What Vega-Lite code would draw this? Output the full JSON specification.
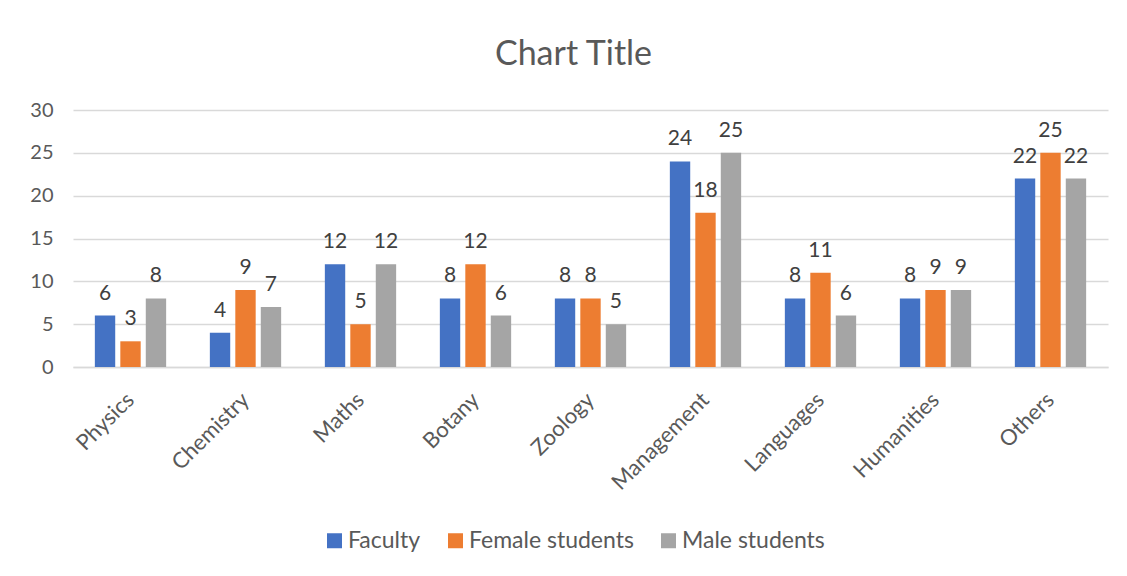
{
  "$schema": "https://vega.github.io/schema/vega-lite/v6.json",
  "autosize": "none",
  "width": 1035,
  "height": 257,
  "padding": {"left": 73, "top": 110, "right": 19, "bottom": 209},
  "background": "white",
  "config": {
    "font": "Lato",
    "view": {"stroke": null}
  },
  "title": {
    "text": "Chart Title",
    "fontSize": 34,
    "font": "Lato",
    "fontWeight": "normal",
    "color": "#595959",
    "anchor": "middle",
    "offset": 28,
    "dx": -17
  },
  "data": {
    "values": [
      {"subject": "Physics", "group": "Faculty", "value": 6},
      {"subject": "Physics", "group": "Female students", "value": 3},
      {"subject": "Physics", "group": "Male students", "value": 8},
      {"subject": "Chemistry", "group": "Faculty", "value": 4},
      {"subject": "Chemistry", "group": "Female students", "value": 9},
      {"subject": "Chemistry", "group": "Male students", "value": 7},
      {"subject": "Maths", "group": "Faculty", "value": 12},
      {"subject": "Maths", "group": "Female students", "value": 5},
      {"subject": "Maths", "group": "Male students", "value": 12},
      {"subject": "Botany", "group": "Faculty", "value": 8},
      {"subject": "Botany", "group": "Female students", "value": 12},
      {"subject": "Botany", "group": "Male students", "value": 6},
      {"subject": "Zoology", "group": "Faculty", "value": 8},
      {"subject": "Zoology", "group": "Female students", "value": 8},
      {"subject": "Zoology", "group": "Male students", "value": 5},
      {"subject": "Management", "group": "Faculty", "value": 24},
      {"subject": "Management", "group": "Female students", "value": 18},
      {"subject": "Management", "group": "Male students", "value": 25},
      {"subject": "Languages", "group": "Faculty", "value": 8},
      {"subject": "Languages", "group": "Female students", "value": 11},
      {"subject": "Languages", "group": "Male students", "value": 6},
      {"subject": "Humanities", "group": "Faculty", "value": 8},
      {"subject": "Humanities", "group": "Female students", "value": 9},
      {"subject": "Humanities", "group": "Male students", "value": 9},
      {"subject": "Others", "group": "Faculty", "value": 22},
      {"subject": "Others", "group": "Female students", "value": 25},
      {"subject": "Others", "group": "Male students", "value": 22}
    ]
  },
  "encoding": {
    "x": {
      "field": "subject",
      "type": "nominal",
      "sort": null,
      "scale": {"paddingInner": 0.38, "paddingOuter": 0.19},
      "axis": {
        "title": null,
        "labelAngle": -45,
        "labelAlign": "right",
        "labelBaseline": "middle",
        "labelFontSize": 22,
        "labelColor": "#595959",
        "labelPadding": 29,
        "ticks": false,
        "domain": true,
        "domainColor": "#d9d9d9",
        "domainWidth": 1.5,
        "grid": false
      }
    },
    "xOffset": {
      "field": "group",
      "type": "nominal",
      "sort": ["Faculty", "Female students", "Male students"],
      "scale": {"paddingInner": 0.2, "paddingOuter": 0}
    },
    "y": {
      "field": "value",
      "type": "quantitative",
      "scale": {"domain": [0, 30], "nice": false},
      "axis": {
        "title": null,
        "values": [0, 5, 10, 15, 20, 25, 30],
        "labelFontSize": 20,
        "labelColor": "#595959",
        "labelPadding": 20,
        "ticks": false,
        "domain": false,
        "grid": true,
        "gridColor": "#d9d9d9",
        "gridWidth": 1.5
      }
    }
  },
  "layer": [
    {
      "mark": {"type": "bar"},
      "encoding": {
        "color": {
          "field": "group",
          "type": "nominal",
          "sort": ["Faculty", "Female students", "Male students"],
          "scale": {
            "domain": ["Faculty", "Female students", "Male students"],
            "range": ["#4472C4", "#ED7D31", "#A5A5A5"]
          },
          "legend": {
            "title": null,
            "orient": "none",
            "direction": "horizontal",
            "legendX": 250,
            "legendY": 419,
            "symbolType": "square",
            "symbolSize": 225,
            "symbolStrokeWidth": 0,
            "labelFontSize": 23,
            "labelLimit": 400,
            "labelColor": "#595959",
            "labelOffset": 2,
            "columnPadding": 23
          }
        }
      }
    },
    {
      "mark": {"type": "text", "baseline": "alphabetic", "dy": -16, "fontSize": 21, "color": "#404040"},
      "encoding": {
        "text": {"field": "value", "type": "quantitative"}
      }
    }
  ]
}
